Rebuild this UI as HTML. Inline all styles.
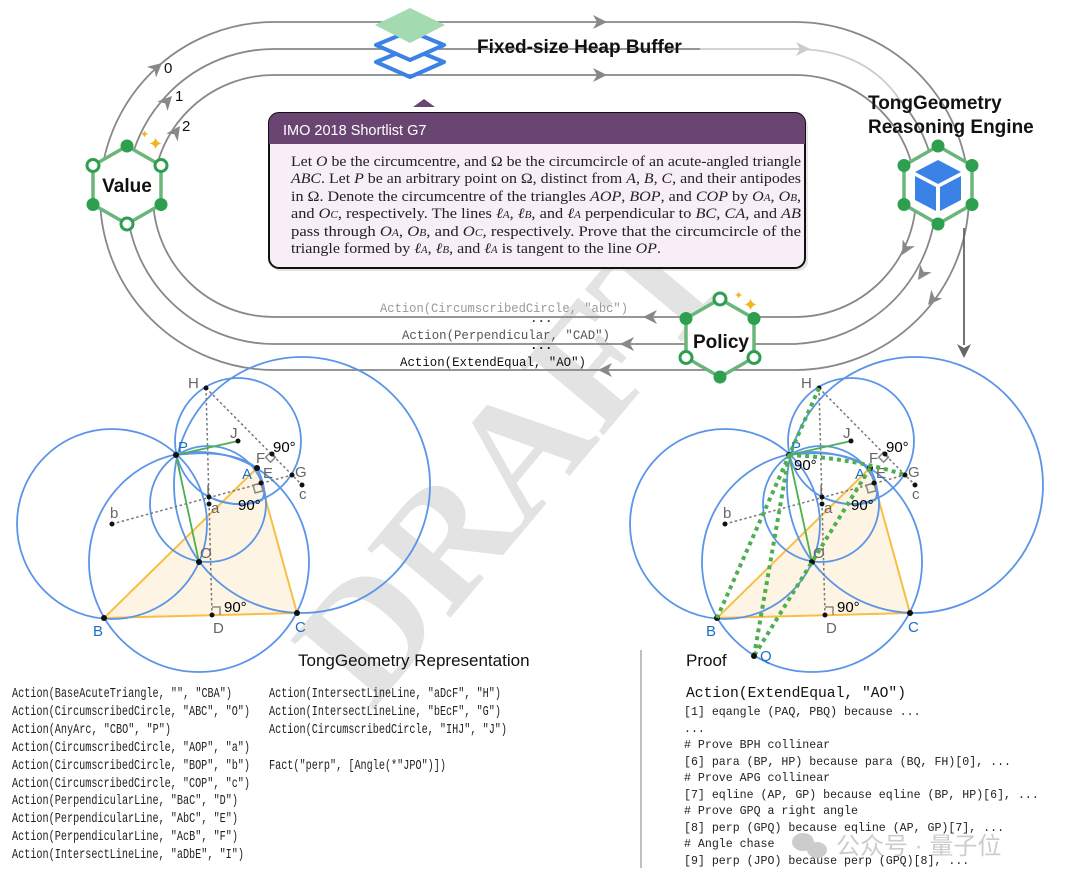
<!DOCTYPE html>
<html><head><meta charset="utf-8"><style>
html,body{margin:0;padding:0;background:#fff;}
svg{display:block;}
.m{font-family:"Liberation Mono",monospace;}
.s{font-family:"Liberation Sans",sans-serif;}
.r{font-family:"Liberation Serif",serif;}
</style></head><body>
<svg width="1080" height="884" viewBox="0 0 1080 884" xmlns="http://www.w3.org/2000/svg">
<defs>
<path id="ah" d="M0,0 L-14,-7 L-10,0 L-14,7 Z"/>
<g id="geo">
  <polygon points="257,468 104,618 297,613" fill="#fdf4e3" stroke="#f7bf45" stroke-width="2"/>
  <g fill="none" stroke="#5b95e8" stroke-width="1.8">
    <circle cx="199" cy="562" r="110"/>
    <circle cx="112" cy="524" r="95"/>
    <circle cx="208" cy="504" r="58"/>
    <circle cx="302" cy="485" r="128"/>
    <circle cx="238" cy="441" r="63"/>
    <path d="M176,455 Q230,448 257,468 Q268,490 262,500 Q240,510 209,497"/>
  </g>
  <g stroke="#777" stroke-width="1.5" stroke-dasharray="2.5 2.5" fill="none">
    <line x1="206" y1="388" x2="212" y2="615"/>
    <line x1="206" y1="388" x2="302" y2="485"/>
    <line x1="112" y1="524" x2="292" y2="475"/>
  </g>
  <g stroke="#4caf50" stroke-width="1.8">
    <line x1="176" y1="455" x2="199" y2="562"/>
    <line x1="176" y1="455" x2="238" y2="441"/>
  </g>
  <g fill="none" stroke="#888" stroke-width="1.5">
    <rect x="267" y="455" width="7" height="7" transform="rotate(45 272 458)"/>
    <rect x="254" y="484" width="8" height="8" transform="rotate(-15 258 488)"/>
    <polyline points="212,607 220,607 220,615"/>
  </g>
  <g fill="#111">
    <circle cx="206" cy="388" r="2.5"/><circle cx="176" cy="455" r="3"/><circle cx="238" cy="441" r="2.5"/>
    <circle cx="272" cy="454" r="2.5"/><circle cx="257" cy="468" r="3"/><circle cx="261" cy="483" r="2.5"/>
    <circle cx="292" cy="475" r="2.5"/><circle cx="302" cy="485" r="2.5"/><circle cx="209" cy="497" r="2.5"/>
    <circle cx="209" cy="504" r="2.5"/><circle cx="112" cy="524" r="2.5"/><circle cx="199" cy="562" r="3"/>
    <circle cx="104" cy="618" r="3"/><circle cx="212" cy="615" r="2.5"/><circle cx="297" cy="613" r="3"/>
  </g>
  <g class="s" font-size="15" fill="#666">
    <text x="188" y="388">H</text><text x="230" y="438">J</text><text x="256" y="463">F</text>
    <text x="263" y="478">E</text><text x="295" y="477">G</text><text x="299" y="499">c</text>
    <text x="206" y="495">I</text><text x="211" y="513">a</text><text x="110" y="518">b</text>
    <text x="200" y="558">O</text><text x="213" y="633">D</text>
  </g>
  <g class="s" font-size="15" fill="#000">
    <text x="273" y="452">90°</text><text x="238" y="510">90°</text><text x="224" y="612">90°</text>
  </g>
  <g class="s" font-size="15" fill="#1a6fc4">
    <text x="178" y="452">P</text><text x="242" y="479">A</text><text x="93" y="636">B</text><text x="295" y="632">C</text>
  </g>
</g>
</defs>

<!-- DRAFT watermark -->
<text class="r" x="0" y="0" font-size="165" font-weight="bold" fill="#000" fill-opacity="0.11" transform="translate(525,470) rotate(-50)" text-anchor="middle" dominant-baseline="middle">DRAFT</text>

<!-- loops -->
<g fill="none" stroke="#888" stroke-width="1.8">
  <path d="M274,22 H795 A174,174 0 0 1 795,370 H274 A174,174 0 0 1 274,22 Z"/>
  <path d="M700,49 H274 A147.5,147.5 0 0 0 274,344 H795 A147.5,147.5 0 0 0 900,100"/>
  <path d="M274,75 H795 A121,121 0 0 1 795,317 H274 A121,121 0 0 1 274,75 Z"/>
</g>
<path d="M700,49 H795 Q865,49 900,100" fill="none" stroke="#ccc" stroke-width="1.8"/>
<g fill="#888">
  <use href="#ah" transform="translate(162,63) rotate(-41)"/>
  <use href="#ah" transform="translate(172,96) rotate(-47)"/>
  <use href="#ah" transform="translate(180,126) rotate(-55)"/>
  <use href="#ah" transform="translate(607,22)"/>
  <use href="#ah" transform="translate(607,75)"/>
  <use href="#ah" transform="translate(902,255) rotate(119)"/>
  <use href="#ah" transform="translate(918,280) rotate(124)"/>
  <use href="#ah" transform="translate(928,305) rotate(129)"/>
  <use href="#ah" transform="translate(643,317) rotate(180)"/>
  <use href="#ah" transform="translate(620,344) rotate(180)"/>
  <use href="#ah" transform="translate(598,370) rotate(180)"/>
</g>
<use href="#ah" transform="translate(810,49)" fill="#ccc"/>
<line x1="964" y1="228" x2="964" y2="345" stroke="#666" stroke-width="1.8"/>
<use href="#ah" transform="translate(964,358) rotate(90)" fill="#666"/>
<g class="s" font-size="15" fill="#111"><text x="164" y="73">0</text><text x="175" y="101">1</text><text x="182" y="131">2</text></g>

<!-- heap buffer icon -->
<polygon points="376,62 410,48 444,62 410,77" fill="none" stroke="#3b82e6" stroke-width="4" stroke-linejoin="round"/>
<polygon points="376,45 410,31 444,45 410,60" fill="#fff" stroke="#3b82e6" stroke-width="4" stroke-linejoin="round"/>
<polygon points="375,25 410,8 445,25 410,43" fill="#a3dab0"/>
<text class="s" x="477" y="53" font-size="19" font-weight="bold" fill="#111">Fixed-size Heap Buffer</text>
<polygon points="424,99 435,107 413,107" fill="#6b4572"/>

<!-- IMO box -->
<rect x="271" y="116" width="537" height="155" rx="10" fill="#ccc" opacity="0.5"/>
<rect x="269" y="113" width="536" height="155" rx="10" fill="#f8eef7" stroke="#111" stroke-width="2"/>
<path d="M269,144 V123 A10,10 0 0 1 279,113 H795 A10,10 0 0 1 805,123 V144 Z" fill="#6b4572"/>
<text class="s" x="283" y="135" font-size="14.5" fill="#fff">IMO 2018 Shortlist G7</text>
<g class="r" font-size="14.5" fill="#222">
<text x="291" y="166" textLength="510" lengthAdjust="spacingAndGlyphs">Let <tspan font-style="italic">O</tspan> be the circumcentre, and Ω be the circumcircle of an acute-angled triangle</text>
<text x="291" y="183" textLength="510" lengthAdjust="spacingAndGlyphs"><tspan font-style="italic">ABC</tspan>. Let <tspan font-style="italic">P</tspan> be an arbitrary point on Ω, distinct from <tspan font-style="italic">A</tspan>, <tspan font-style="italic">B</tspan>, <tspan font-style="italic">C</tspan>, and their antipodes</text>
<text x="291" y="201" textLength="510" lengthAdjust="spacingAndGlyphs">in Ω. Denote the circumcentre of the triangles <tspan font-style="italic">AOP</tspan>, <tspan font-style="italic">BOP</tspan>, and <tspan font-style="italic">COP</tspan> by <tspan font-style="italic">O<tspan font-size="10">A</tspan></tspan>, <tspan font-style="italic">O<tspan font-size="10">B</tspan></tspan>,</text>
<text x="291" y="218" textLength="510" lengthAdjust="spacingAndGlyphs">and <tspan font-style="italic">O<tspan font-size="10">C</tspan></tspan>, respectively. The lines <tspan font-style="italic">ℓ<tspan font-size="10">A</tspan></tspan>, <tspan font-style="italic">ℓ<tspan font-size="10">B</tspan></tspan>, and <tspan font-style="italic">ℓ<tspan font-size="10">A</tspan></tspan> perpendicular to <tspan font-style="italic">BC</tspan>, <tspan font-style="italic">CA</tspan>, and <tspan font-style="italic">AB</tspan></text>
<text x="291" y="236" textLength="510" lengthAdjust="spacingAndGlyphs">pass through <tspan font-style="italic">O<tspan font-size="10">A</tspan></tspan>, <tspan font-style="italic">O<tspan font-size="10">B</tspan></tspan>, and <tspan font-style="italic">O<tspan font-size="10">C</tspan></tspan>, respectively. Prove that the circumcircle of the</text>
<text x="291" y="253" textLength="370" lengthAdjust="spacingAndGlyphs">triangle formed by <tspan font-style="italic">ℓ<tspan font-size="10">A</tspan></tspan>, <tspan font-style="italic">ℓ<tspan font-size="10">B</tspan></tspan>, and <tspan font-style="italic">ℓ<tspan font-size="10">A</tspan></tspan> is tangent to the line <tspan font-style="italic">OP</tspan>.</text>
</g>

<!-- action labels -->
<g class="m" font-size="12.5">
<text x="380" y="312" fill="#999" textLength="248" lengthAdjust="spacingAndGlyphs">Action(CircumscribedCircle, "abc")</text>
<text x="402" y="339" fill="#555" textLength="208" lengthAdjust="spacingAndGlyphs">Action(Perpendicular, "CAD")</text>
<text x="400" y="366" fill="#111" textLength="186" lengthAdjust="spacingAndGlyphs">Action(ExtendEqual, "AO")</text>
<text x="530" y="322" fill="#444" font-weight="bold">...</text>
<text x="530" y="349" fill="#111" font-weight="bold">...</text>
</g>

<!-- hexagons -->
<g stroke="#6ab57a" stroke-width="3.5" fill="#fff">
  <polygon points="127,146 161,165.5 161,204.5 127,224 93,204.5 93,165.5"/>
  <polygon points="938,146 972,165.5 972,204.5 938,224 904,204.5 904,165.5"/>
  <polygon points="720,299 754,318.5 754,357.5 720,377 686,357.5 686,318.5"/>
</g>
<g fill="#2e9e4f">
  <circle cx="127" cy="146" r="6.5"/><circle cx="161" cy="204.5" r="6.5"/><circle cx="93" cy="204.5" r="6.5"/>
  <circle cx="938" cy="146" r="6.5"/><circle cx="972" cy="165.5" r="6.5"/><circle cx="972" cy="204.5" r="6.5"/>
  <circle cx="938" cy="224" r="6.5"/><circle cx="904" cy="204.5" r="6.5"/><circle cx="904" cy="165.5" r="6.5"/>
  <circle cx="754" cy="318.5" r="6.5"/><circle cx="720" cy="377" r="6.5"/><circle cx="686" cy="318.5" r="6.5"/>
</g>
<g fill="#fff" stroke="#2e9e4f" stroke-width="3">
  <circle cx="161" cy="165.5" r="6"/><circle cx="127" cy="224" r="6"/><circle cx="93" cy="165.5" r="6"/>
  <circle cx="720" cy="299" r="6"/><circle cx="754" cy="357.5" r="6"/><circle cx="686" cy="357.5" r="6"/>
</g>
<text class="s" x="127" y="192" font-size="19" font-weight="bold" text-anchor="middle" fill="#111">Value</text>
<text class="s" x="721" y="348" font-size="19" font-weight="bold" text-anchor="middle" fill="#111">Policy</text>
<g fill="#3b82e6">
  <polygon points="938,160 961,172 938,184 915,172"/>
  <polygon points="915,176 936,187 936,211 915,200"/>
  <polygon points="940,187 961,176 961,200 940,211"/>
</g>
<g fill="#f5b320" class="s">
  <text x="148" y="150" font-size="18">✦</text><text x="140" y="138" font-size="11">✦</text>
  <text x="743" y="311" font-size="18">✦</text><text x="734" y="299" font-size="11">✦</text>
</g>
<g class="s" font-size="19" font-weight="bold" fill="#111">
  <text x="868" y="109">TongGeometry</text><text x="868" y="133">Reasoning Engine</text>
</g>

<!-- geometry -->
<use href="#geo"/>
<g transform="translate(613,0)">
  <use href="#geo"/>
  <g stroke="#4caf50" stroke-width="4" stroke-dasharray="4 4" fill="none">
    <line x1="206" y1="388" x2="104" y2="618"/>
    <line x1="176" y1="455" x2="141" y2="656"/>
    <line x1="257" y1="468" x2="141" y2="656"/>
    <path d="M176,455 Q240,458 292,475"/>
  </g>
  <circle cx="141" cy="656" r="3" fill="#111"/>
  <text class="s" x="147" y="661" font-size="15" fill="#1a6fc4">Q</text>
  <text class="s" x="181" y="470" font-size="15" fill="#000">90°</text>
</g>

<!-- bottom -->
<text class="s" x="298" y="666" font-size="17" fill="#111">TongGeometry Representation</text>
<g class="m" font-size="13.5" fill="#222">
<text x="12" y="697" textLength="220" lengthAdjust="spacingAndGlyphs">Action(BaseAcuteTriangle, "", "CBA")</text>
<text x="12" y="715" textLength="238" lengthAdjust="spacingAndGlyphs">Action(CircumscribedCircle, "ABC", "O")</text>
<text x="12" y="733" textLength="159" lengthAdjust="spacingAndGlyphs">Action(AnyArc, "CBO", "P")</text>
<text x="12" y="751" textLength="238" lengthAdjust="spacingAndGlyphs">Action(CircumscribedCircle, "AOP", "a")</text>
<text x="12" y="769" textLength="238" lengthAdjust="spacingAndGlyphs">Action(CircumscribedCircle, "BOP", "b")</text>
<text x="12" y="787" textLength="238" lengthAdjust="spacingAndGlyphs">Action(CircumscribedCircle, "COP", "c")</text>
<text x="12" y="804" textLength="226" lengthAdjust="spacingAndGlyphs">Action(PerpendicularLine, "BaC", "D")</text>
<text x="12" y="822" textLength="226" lengthAdjust="spacingAndGlyphs">Action(PerpendicularLine, "AbC", "E")</text>
<text x="12" y="840" textLength="226" lengthAdjust="spacingAndGlyphs">Action(PerpendicularLine, "AcB", "F")</text>
<text x="12" y="858" textLength="232" lengthAdjust="spacingAndGlyphs">Action(IntersectLineLine, "aDbE", "I")</text>
<text x="269" y="697" textLength="232" lengthAdjust="spacingAndGlyphs">Action(IntersectLineLine, "aDcF", "H")</text>
<text x="269" y="715" textLength="232" lengthAdjust="spacingAndGlyphs">Action(IntersectLineLine, "bEcF", "G")</text>
<text x="269" y="733" textLength="238" lengthAdjust="spacingAndGlyphs">Action(CircumscribedCircle, "IHJ", "J")</text>
<text x="269" y="769" textLength="177" lengthAdjust="spacingAndGlyphs">Fact("perp", [Angle(*"JPO")])</text>
</g>
<line x1="641" y1="650" x2="641" y2="868" stroke="#aaa" stroke-width="1.5"/>
<text class="s" x="686" y="666" font-size="17" fill="#111">Proof</text>
<text class="m" x="686" y="697" font-size="15" fill="#111" textLength="220" lengthAdjust="spacingAndGlyphs">Action(ExtendEqual, "AO")</text>
<g class="m" font-size="11.6" fill="#222">
<text x="684" y="715">[1] eqangle (PAQ, PBQ) because ...</text>
<text x="684" y="732">...</text>
<text x="684" y="748"># Prove BPH collinear</text>
<text x="684" y="765">[6] para (BP, HP) because para (BQ, FH)[0], ...</text>
<text x="684" y="781"># Prove APG collinear</text>
<text x="684" y="798">[7] eqline (AP, GP) because eqline (BP, HP)[6], ...</text>
<text x="684" y="814"># Prove GPQ a right angle</text>
<text x="684" y="831">[8] perp (GPQ) because eqline (AP, GP)[7], ...</text>
<text x="684" y="847"># Angle chase</text>
<text x="684" y="864">[9] perp (JPO) because perp (GPQ)[8], ...</text>
</g>
<g opacity="0.75">
  <ellipse cx="803" cy="842" rx="11" ry="9" fill="#bbb"/>
  <ellipse cx="817" cy="850" rx="10" ry="8" fill="#bbb"/>
  <text x="836" y="854" font-family="'Liberation Sans','Noto Sans CJK SC',sans-serif" font-size="24" fill="#bbb">公众号 · 量子位</text>
</g>
</svg>
</body></html>
